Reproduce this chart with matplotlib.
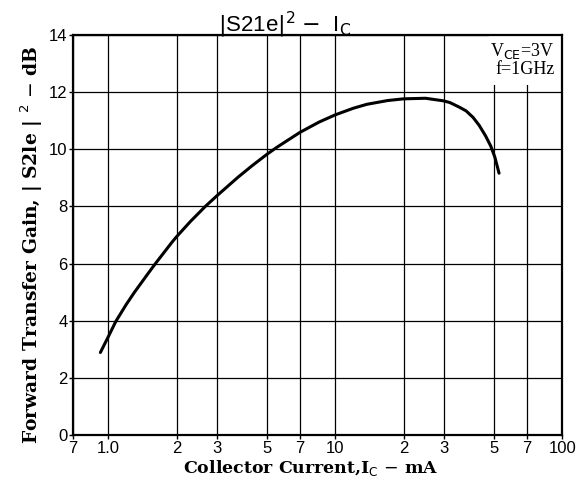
import numpy as np
import matplotlib
matplotlib.use("Agg")
from matplotlib import pyplot as plt
from matplotlib.ticker import FixedLocator, NullLocator

# Collector current (mA) and forward transfer gain |S21e|^2 (dB)
ic_ma = [0.923, 1.0, 1.08, 1.2, 1.3, 1.5, 1.61, 1.91, 2.0, 2.3, 2.67, 3.0, 3.73,
         4.3, 5.0, 5.54, 7.0, 8.5, 10.0, 12.0, 13.8, 17.0, 20.0, 25.0, 30.0,
         32.0, 35.2, 37.7, 40.5, 43.1, 46.0, 48.5, 50.5, 52.7]
gain_db = [2.89, 3.44, 3.98, 4.57, 4.98, 5.66, 5.99, 6.75, 6.94, 7.47, 7.99, 8.36, 9.02,
           9.42, 9.82, 10.07, 10.59, 10.95, 11.2, 11.43, 11.57, 11.7, 11.76, 11.78, 11.69,
           11.63, 11.47, 11.34, 11.11, 10.83, 10.46, 10.1, 9.72, 9.16]

x_ticks = [0.7, 1.0, 2, 3, 5, 7, 10, 20, 30, 50, 70, 100]
x_tick_labels = ["7", "1.0", "2", "3", "5", "7", "10", "2", "3", "5", "7", "100"]
y_ticks = [0, 2, 4, 6, 8, 10, 12, 14]

serif = ["DejaVu Serif"]
sans = ["Liberation Sans", "DejaVu Sans"]

fig = plt.figure(figsize=(5.85, 4.9), dpi=100)
ax = fig.add_axes([0.125, 0.112, 0.836, 0.817])

ax.set_xscale("log")
ax.set_xlim(0.7, 100)
ax.set_ylim(0, 14)

ax.xaxis.set_major_locator(FixedLocator(x_ticks))
ax.xaxis.set_minor_locator(NullLocator())
ax.set_xticklabels(x_tick_labels, fontfamily=sans, fontsize=12)
ax.set_yticks(y_ticks)
ax.set_yticklabels([str(v) for v in y_ticks], fontfamily=sans, fontsize=12)
ax.tick_params(direction="out", length=3, width=1, color="black", pad=1)

ax.grid(True, which="major", color="black", linewidth=0.9)
for sp in ax.spines.values():
    sp.set_linewidth(1.6)

ax.plot(ic_ma, gain_db, color="black", linewidth=2.2, solid_capstyle="round",
        solid_joinstyle="round")

fig.text(0.487, 0.935, r"$|$S21e$|^2$ $-$  I$_\mathrm{C}$", fontfamily=sans,
         fontsize=16, ha="center", va="baseline")
ax.set_xlabel(r"Collector Current,I$_\mathrm{C}$ $-$ mA", fontfamily=serif,
              fontweight="bold", fontsize=12.5)
ax.xaxis.set_label_coords(0.485, -0.058)
ax.set_ylabel(r"Forward Transfer Gain, | S2le | $^2$ $-$ dB", fontfamily=serif,
              fontweight="bold", fontsize=13.5)
ax.yaxis.set_label_coords(-0.058, 0.475)

# white patch behind the condition note hides the grid there
ax.add_patch(plt.Rectangle((0.85, 0.875), 0.15, 0.125, transform=ax.transAxes,
                           facecolor="white", edgecolor="none", zorder=2.5))
ax.text(0.985, 0.985, "V$_\\mathrm{CE}$=3V\nf=1GHz", transform=ax.transAxes,
        ha="right", va="top", fontfamily=["Liberation Serif"], fontsize=13,
        linespacing=1.05, zorder=3)

fig.savefig("out.png", dpi=100)
